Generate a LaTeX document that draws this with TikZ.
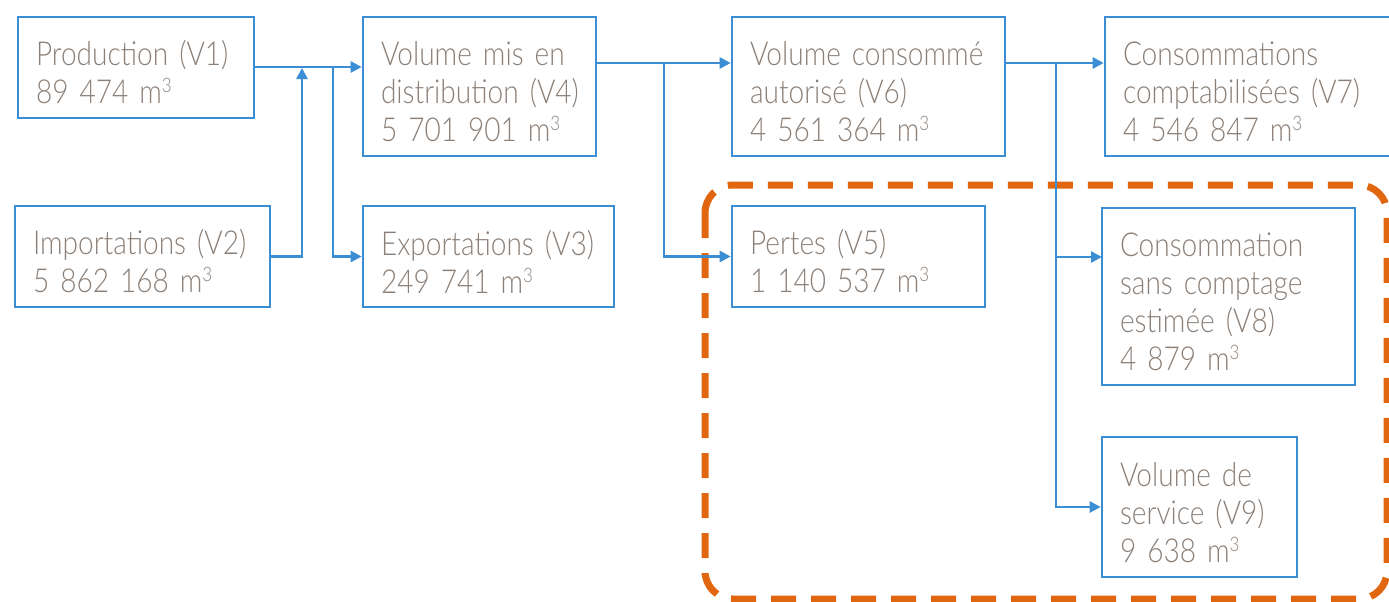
\documentclass[tikz,border=0pt]{standalone}
\usepackage{fontspec}
\setmainfont{Lato}[UprightFont=* Light, FakeStretch=0.85, WordSpace=0.55]
\usetikzlibrary{arrows.meta}
\definecolor{bblue}{HTML}{3B8ED4}
\definecolor{tgrey}{HTML}{8B8078}
\definecolor{dorange}{HTML}{E0670F}
\newcommand{\cub}{m\raisebox{11pt}{\fontsize{20}{20}\selectfont 3}}
\newcommand{\bx}[6]{%
  \pgfmathsetmacro{\bw}{#4-#2}\pgfmathsetmacro{\bh}{#5-#3}\pgfmathsetmacro{\tw}{#4-#2-36}%
  \node[box, minimum width=\bw pt, minimum height=\bh pt, text width=\tw pt] (#1) at ({(#2+#4)/2},{(#3+#5)/2}) {\rule{0pt}{35pt}#6};}
\begin{document}
\begin{tikzpicture}[x=1pt,y=-1pt,
  box/.style={draw=bblue, line width=2.6pt, inner xsep=17pt, inner ysep=0pt, align=left,
    text=tgrey, font=\fontsize{33}{38}\selectfont},
  arr/.style={draw=bblue, line width=2.6pt, -{Triangle[length=11pt,width=11pt]}},
  lossbox/.style={draw=dorange, line width=7pt, dash pattern=on 25pt off 15pt, rounded corners=28pt}]
\useasboundingbox (0,0) rectangle (1389,602);
\draw[lossbox] (705,185) rectangle (1387,599);
\bx{v1}{18}{17}{254}{118}{Production~(V1)\\89~474~\cub}
\bx{v2}{15}{206}{270}{307}{Importations~(V2)\\5~862~168~\cub}
\bx{v4}{363}{17}{596}{156}{Volume~mis~en\\distribution~(V4)\\5~701~901~\cub}
\bx{v3}{363}{206}{614}{307}{Exportations~(V3)\\249~741~\cub}
\bx{v6}{732}{17}{1005}{156}{Volume~consommé\\autorisé~(V6)\\4~561~364~\cub}
\bx{v5}{732}{206}{985}{307}{Pertes~(V5)\\1~140~537~\cub}
\bx{v7}{1105}{17}{1400}{156}{Consommations\\comptabilisées~(V7)\\4~546~847~\cub}
\bx{v8}{1102}{208}{1355}{385}{Consommation\\sans~comptage\\estimée~(V8)\\4~879~\cub}
\bx{v9}{1102}{437}{1297}{577}{Volume~de\\service~(V9)\\9~638~\cub}
\coordinate (o1) at (254,67);
\coordinate (j1) at (302,68);
\coordinate (b1) at (333,67);
\coordinate (o4) at (596,63);
\coordinate (b2) at (664,63);
\coordinate (o6) at (1005,63);
\coordinate (b3) at (1056,63);
\coordinate (a8) at (1102,257);
\draw[arr] (o1) -- (o1 -| v4.west);
\draw[arr] (v2.east) -| (j1);
\draw[arr] (b1) |- (v3.west);
\draw[arr] (o4) -- (o4 -| v6.west);
\draw[arr] (b2) |- (v5.west);
\draw[arr] (o6) -- (o6 -| v7.west);
\draw[arr] (b3) |- (a8);
\draw[arr] (b3) |- (v9.west);
\end{tikzpicture}
\end{document}
